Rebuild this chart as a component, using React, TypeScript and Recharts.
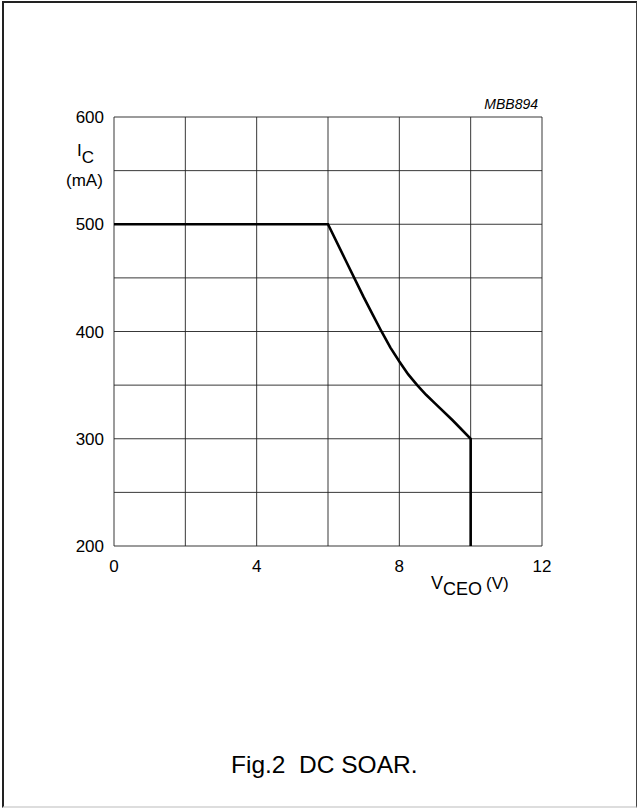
import React from 'react'
import { LineChart, Line, XAxis, YAxis, CartesianGrid } from 'recharts'

// DC SOAR curve
const vceo = [0, 6, 6.5, 7, 7.25, 7.5, 7.75, 8, 8.25, 8.5, 8.75, 9, 9.5, 10, 10]
const ic = [500, 500, 466, 432, 416, 400, 385, 372, 360, 350, 341, 333, 317, 300, 200]

const xTicks = [0, 2, 4, 6, 8, 10, 12]
const xLabels = [0, 4, 8, 12]
const yTicks = [200, 250, 300, 350, 400, 450, 500, 550, 600]
const yLabels = [200, 300, 400, 500, 600]

const data = vceo.map((v, i) => ({ v, i: ic[i] }))

const FONT = '"Liberation Sans", Arial, sans-serif'

export default function App() {
  const tickStyle = { fontSize: 17, fill: '#000', fontFamily: FONT }

  return (
    <div
      style={{
        position: 'fixed',
        left: 0,
        top: 0,
        width: 641,
        height: 812,
        background: '#fff',
        fontFamily: FONT,
      }}
    >
      {/* frame */}
      <div
        style={{
          position: 'absolute',
          left: 2,
          top: 1,
          width: 635,
          height: 807,
          borderLeft: '2px solid #222',
          borderTop: '2px solid #222',
          borderRight: '1px solid #444',
          borderBottom: '2px solid #ddd',
          boxSizing: 'border-box',
        }}
      />
      <div style={{ position: 'absolute', left: 0, top: 0 }}>
        <LineChart
          width={641}
          height={620}
          data={data}
          margin={{ top: 117, right: 99, bottom: 44, left: 54 }}
        >
          <CartesianGrid stroke="#222" strokeWidth={1} strokeOpacity={0.9} />
          <XAxis
            dataKey="v"
            type="number"
            domain={[0, 12]}
            ticks={xTicks}
            tickFormatter={(t) => (xLabels.includes(t) ? String(t) : '')}
            axisLine={false}
            tickLine={false}
            tickMargin={8}
            height={30}
            tick={tickStyle}
            interval={0}
          />
          <YAxis
            type="number"
            domain={[200, 600]}
            ticks={yTicks}
            tickFormatter={(t) => (yLabels.includes(t) ? String(t) : '')}
            axisLine={false}
            tickLine={false}
            tickMargin={4}
            width={60}
            tick={tickStyle}
            interval={0}
          />
          <Line
            dataKey="i"
            type="linear"
            stroke="#000"
            strokeWidth={2.6}
            dot={false}
            isAnimationActive={false}
          />
        </LineChart>
      </div>

      {/* y axis unit */}
      <div style={{ position: 'absolute', left: 77, top: 142, fontSize: 17, lineHeight: '17px' }}>
        I<sub style={{ fontSize: 17, verticalAlign: 'baseline', position: 'relative', top: 7 }}>C</sub>
      </div>
      <div style={{ position: 'absolute', left: 66, top: 172, fontSize: 17, lineHeight: '17px' }}>
        (mA)
      </div>

      {/* x axis unit */}
      <div style={{ position: 'absolute', left: 431, top: 574, fontSize: 18, lineHeight: '18px', whiteSpace: 'nowrap' }}>
        V
        <span style={{ position: 'relative', top: 6 }}>CEO</span>
        <span style={{ fontSize: 17, marginLeft: 4 }}>(V)</span>
      </div>

      {/* figure code */}
      <div
        style={{
          position: 'absolute',
          right: 103,
          top: 97,
          fontSize: 14,
          fontStyle: 'italic',
          lineHeight: '14px',
        }}
      >
        MBB894
      </div>

      {/* caption */}
      <div
        style={{
          position: 'absolute',
          left: 231,
          top: 751,
          fontSize: 24.5,
          lineHeight: '27px',
          whiteSpace: 'pre',
        }}
      >
        Fig.2  DC SOAR.
      </div>
    </div>
  )
}
